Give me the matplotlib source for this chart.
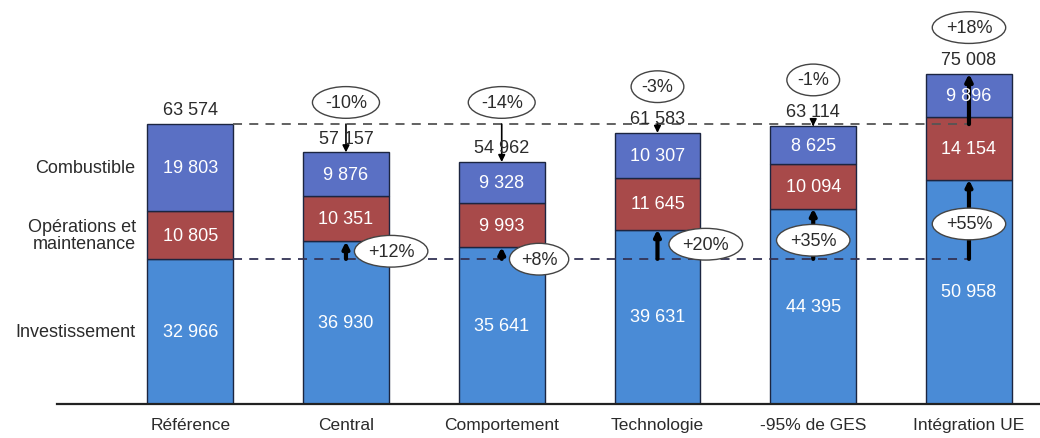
import numpy as np
import matplotlib
matplotlib.use("Agg")
import matplotlib.pyplot as plt

plt.rcParams['font.family'] = ['Liberation Sans', 'DejaVu Sans']

# data
scenarios = ['Référence', 'Central', 'Comportement', 'Technologie', '-95% de GES', 'Intégration UE']
investissement = [32966, 36930, 35641, 39631, 44395, 50958]
operations = [10805, 10351, 9993, 11645, 10094, 14154]
combustible = [19803, 9876, 9328, 10307, 8625, 9896]
totaux = [63574, 57157, 54962, 61583, 63114, 75008]
var_total = ['-10%', '-14%', '-3%', '-1%', '+18%']
var_invest = ['+12%', '+8%', '+20%', '+35%', '+55%']
series_names = ['Investissement', 'Opérations et\nmaintenance', 'Combustible']

def fmt(v):
    return f"{v:,}".replace(",", " ")

c_inv = '#4a8bd6'
c_ope = '#a84a4a'
c_com = '#5a70c4'
edge = '#1c2540'
txt = '#2b2b2b'
fs = 13

fig = plt.figure(figsize=(10.4, 4.39), dpi=100)
ax = fig.add_axes([0.055, 0.0774, 0.945, 0.9226])

x = np.arange(len(scenarios))
w = 0.55
inv = np.array(investissement)
ope = np.array(operations)
com = np.array(combustible)

ax.bar(x, inv, w, color=c_inv, edgecolor=edge, lw=1, zorder=2)
ax.bar(x, ope, w, bottom=inv, color=c_ope, edgecolor=edge, lw=1, zorder=2)
ax.bar(x, com, w, bottom=inv + ope, color=c_com, edgecolor=edge, lw=1, zorder=2)

for i in x:
    ax.text(i, inv[i] / 2, fmt(inv[i]), ha='center', va='center', color='white', fontsize=fs, zorder=5)
    ax.text(i, inv[i] + ope[i] / 2, fmt(ope[i]), ha='center', va='center', color='white', fontsize=fs, zorder=5)
    ax.text(i, inv[i] + ope[i] + com[i] / 2, fmt(com[i]), ha='center', va='center', color='white', fontsize=fs, zorder=5)
    ax.text(i, totaux[i] + 1300, fmt(totaux[i]), ha='center', va='bottom', color=txt, fontsize=fs, zorder=5)

# series names on the left of the first bar
ax.text(-0.35, inv[0] / 2, series_names[0], ha='right', va='center', fontsize=fs, color=txt)
ax.text(-0.35, inv[0] + ope[0] / 2, series_names[1], ha='right', va='center', fontsize=fs,
        color=txt, multialignment='right', linespacing=0.95)
ax.text(-0.35, inv[0] + ope[0] + com[0] / 2, series_names[2], ha='right', va='center', fontsize=fs, color=txt)

# reference dashed lines
x0 = w / 2
ax.plot([x0, x[-1]], [totaux[0], totaux[0]], ls=(0, (5, 4)), color='#555555', lw=1.3, zorder=3)
ax.plot([x0, x[-1]], [inv[0], inv[0]], ls=(0, (5, 4)), color='#333355', lw=1.3, zorder=3)

mid_dx = [0.29, 0.24, 0.31, 0.0, 0.0]
mid_y = [34700, 32900, 36300, 37200, 40900]

for k, i in enumerate(x[1:]):
    # total change arrow
    lw_top = 3 if totaux[i] > totaux[0] else 1.2
    ax.annotate('', xy=(i, totaux[i]), xytext=(i, totaux[0]),
                arrowprops=dict(arrowstyle='-|>', color='black', lw=lw_top, mutation_scale=10,
                                shrinkA=0, shrinkB=0), zorder=4)
    ytop = max(totaux[i] + 10500, 68500)
    ax.text(i, ytop, var_total[k], ha='center', va='center', fontsize=fs, color=txt,
            bbox=dict(boxstyle='ellipse,pad=0.15', fc='white', ec='#444444', lw=1), zorder=6)
    # investment change arrow
    ax.annotate('', xy=(i, inv[i]), xytext=(i, inv[0]),
                arrowprops=dict(arrowstyle='-|>', color='black', lw=3, mutation_scale=9,
                                shrinkA=0, shrinkB=0), zorder=4)
    ax.text(i + mid_dx[k], mid_y[k], var_invest[k], ha='center', va='center', fontsize=fs,
            color=txt, bbox=dict(boxstyle='ellipse,pad=0.15', fc='white', ec='#444444', lw=1), zorder=6)

ax.set_xlim(-0.854, 5.456)
ax.set_ylim(0, 92000)
ax.set_xticks(x)
ax.set_xticklabels(scenarios, fontsize=12.5, color=txt)
ax.tick_params(axis='x', length=0, pad=9)
ax.set_yticks([])
for s in ['top', 'right', 'left']:
    ax.spines[s].set_visible(False)
ax.spines['bottom'].set_linewidth(1.6)
ax.spines['bottom'].set_color('#222222')

fig.savefig('out.png', dpi=100)
